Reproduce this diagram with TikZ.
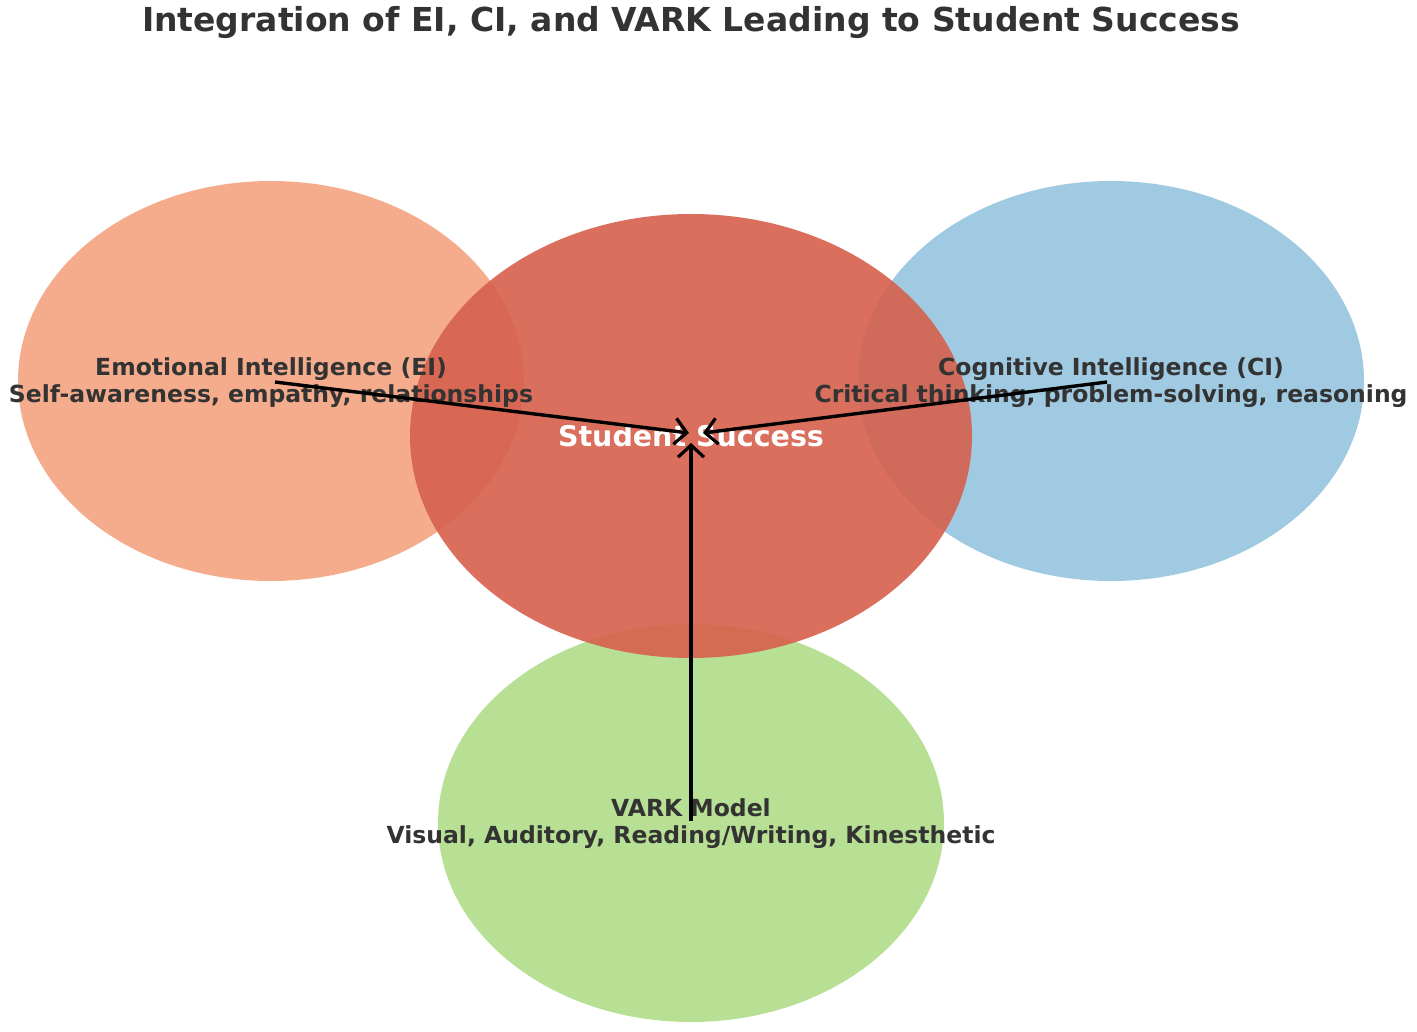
\documentclass[tikz,border=0pt]{standalone}
\usepackage{fontspec}
\setmainfont{DejaVu Sans}
\usetikzlibrary{shapes.geometric,arrows.meta}
\definecolor{eicol}{HTML}{F4AC8C}
\definecolor{cicol}{HTML}{9FCAE1}
\definecolor{varkcol}{HTML}{B8E094}
\definecolor{sscol}{HTML}{D6604D}
\definecolor{txtcol}{HTML}{333333}
\tikzset{
  blob/.style={ellipse, draw=none, inner sep=0pt},
  lbl/.style={font=\fontsize{23.5}{27}\selectfont\bfseries, text=txtcol, align=center, inner sep=0pt},
  conn/.style={line width=3.4pt, draw=black, -{Straight Barb[length=12pt,width=26pt,line width=3.2pt]}},
}
\begin{document}
\begin{tikzpicture}[x=1pt,y=-1pt]
\useasboundingbox[fill=white] (0,0) rectangle (1417,1032);
% ellipses
\node[blob, fill=eicol, minimum width=506pt, minimum height=400pt] (ei) at (271,381) {};
\node[blob, fill=cicol, minimum width=506pt, minimum height=400pt] (ci) at (1111,381) {};
\node[blob, fill=varkcol, minimum width=506pt, minimum height=398pt] (vark) at (691,823) {};
\node[blob, fill=sscol, fill opacity=0.9, minimum width=562pt, minimum height=444pt] (ss) at (691,436) {};
% texts
\node[font=\fontsize{33}{38}\selectfont\bfseries, text=txtcol, inner sep=0pt] (title) at (691,23) {Integration of EI, CI, and VARK Leading to Student Success};
\node[lbl] (eilbl) at (271,383) {Emotional Intelligence (EI)\\Self-awareness, empathy, relationships};
\node[lbl] (cilbl) at (1111,383) {Cognitive Intelligence (CI)\\Critical thinking, problem-solving, reasoning};
\node[lbl] (varklbl) at (691,824) {VARK Model\\Visual, Auditory, Reading/Writing, Kinesthetic};
\node[font=\fontsize{28.5}{32}\selectfont\bfseries, text=white, inner sep=0pt] (sslbl) at (691,436) {Student Success};
% connector endpoints
\coordinate (eitail) at (275,382);
\coordinate (citail) at (1107,382);
\coordinate (varktail) at (691,821);
\coordinate (eitip) at (689,433);
\coordinate (citip) at (703,433);
\coordinate (varktip) at (691,443);
\draw[conn] (eitail) -- (eitip);
\draw[conn] (citail) -- (citip);
\draw[conn] (varktail) -- (varktip);
\end{tikzpicture}
\end{document}
